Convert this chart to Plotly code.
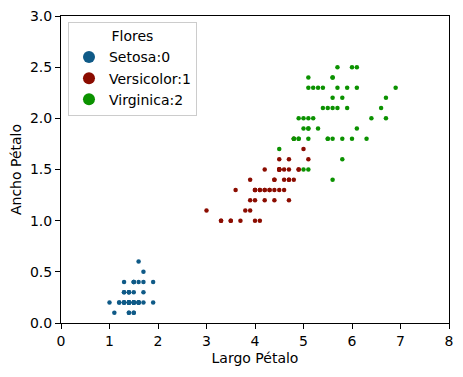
import plotly.graph_objects as go

species = ["Setosa:0", "Versicolor:1", "Virginica:2"]
colors = ["#0f5a87", "#8b0c00", "#0b9200"]

setosa_len = [1.4,1.4,1.3,1.5,1.4,1.7,1.4,1.5,1.4,1.5,1.5,1.6,1.4,1.1,1.2,1.5,1.3,1.4,1.7,1.5,
              1.7,1.5,1.0,1.7,1.9,1.6,1.6,1.5,1.4,1.6,1.6,1.5,1.5,1.4,1.5,1.2,1.3,1.4,1.3,1.5,
              1.3,1.3,1.3,1.6,1.9,1.4,1.6,1.4,1.5,1.4]
setosa_wid = [0.2,0.2,0.2,0.2,0.2,0.4,0.3,0.2,0.2,0.1,0.2,0.2,0.1,0.1,0.2,0.4,0.4,0.3,0.3,0.3,
              0.2,0.4,0.2,0.5,0.2,0.2,0.4,0.2,0.2,0.2,0.2,0.4,0.1,0.2,0.2,0.2,0.2,0.1,0.2,0.2,
              0.3,0.3,0.2,0.6,0.4,0.3,0.2,0.2,0.2,0.2]
versi_len = [4.7,4.5,4.9,4.0,4.6,4.5,4.7,3.3,4.6,3.9,3.5,4.2,4.0,4.7,3.6,4.4,4.5,4.1,4.5,3.9,
             4.8,4.0,4.9,4.7,4.3,4.4,4.8,5.0,4.5,3.5,3.8,3.7,3.9,5.1,4.5,4.5,4.7,4.4,4.1,4.0,
             4.4,4.6,4.0,3.3,4.2,4.2,4.2,4.3,3.0,4.1]
versi_wid = [1.4,1.5,1.5,1.3,1.5,1.3,1.6,1.0,1.3,1.4,1.0,1.5,1.0,1.4,1.3,1.4,1.5,1.0,1.5,1.1,
             1.8,1.3,1.5,1.2,1.3,1.4,1.4,1.7,1.5,1.0,1.1,1.0,1.2,1.6,1.5,1.6,1.5,1.3,1.3,1.3,
             1.2,1.4,1.2,1.0,1.3,1.2,1.3,1.3,1.1,1.3]
virg_len = [6.0,5.1,5.9,5.6,5.8,6.6,4.5,6.3,5.8,6.1,5.1,5.3,5.5,5.0,5.1,5.3,5.5,6.7,6.9,5.0,
            5.7,4.9,6.7,4.9,5.7,6.0,4.8,4.9,5.6,5.8,6.1,6.4,5.6,5.1,5.6,6.1,5.6,5.5,4.8,5.4,
            5.6,5.1,5.1,5.9,5.7,5.2,5.0,5.2,5.4,5.1]
virg_wid = [2.5,1.9,2.1,1.8,2.2,2.1,1.7,1.8,1.8,2.5,2.0,1.9,2.1,2.0,2.4,2.3,1.8,2.2,2.3,1.5,
            2.3,2.0,2.0,1.8,2.1,1.8,1.8,1.8,2.1,1.6,1.9,2.0,2.2,1.5,1.4,2.3,2.4,1.8,1.8,2.1,
            2.4,2.3,1.9,2.3,2.5,2.3,1.9,2.0,2.3,1.8]

xs = [setosa_len, versi_len, virg_len]
ys = [setosa_wid, versi_wid, virg_wid]

fig = go.Figure()
for name, c, x, y in zip(species, colors, xs, ys):
    fig.add_trace(go.Scatter(x=x, y=y, mode="markers", name=name,
                             marker=dict(color=c, size=4.5, line=dict(width=0))))

axis_common = dict(showgrid=False, zeroline=False, showline=True, linecolor="black",
                   linewidth=1, mirror=True, ticks="outside", ticklen=5, tickcolor="black",
                   tickfont=dict(size=14, color="black"), automargin=False,
                   ticklabeloverflow="allow")
fig.update_xaxes(range=[0, 8], tickvals=[0,1,2,3,4,5,6,7,8], ticktext=["0","1","2","3","4","5","6","7","8"],
                 title=dict(text="Largo Pétalo", font=dict(size=14, color="black"), standoff=5),
                 **axis_common)
fig.update_yaxes(range=[0, 3], tickvals=[0,0.5,1,1.5,2,2.5,3],
                 ticktext=["0.0","0.5","1.0","1.5","2.0","2.5","3.0"],
                 title=dict(text="Ancho Pétalo", font=dict(size=14, color="black"), standoff=7),
                 **axis_common)
fig.update_layout(
    width=455, height=369,
    margin=dict(l=53, r=14, t=8, b=54),
    paper_bgcolor="white", plot_bgcolor="white",
    font=dict(family="DejaVu Sans", size=14, color="black"),
    legend=dict(x=0.018, y=0.98, xanchor="left", yanchor="top",
                bordercolor="#cccccc", borderwidth=1, bgcolor="rgba(255,255,255,0.8)",
                title=dict(text="Flores", side="top center", font=dict(size=14)),
                itemsizing="constant", font=dict(size=14), tracegroupgap=0),
)
fig.write_html("out.html")
